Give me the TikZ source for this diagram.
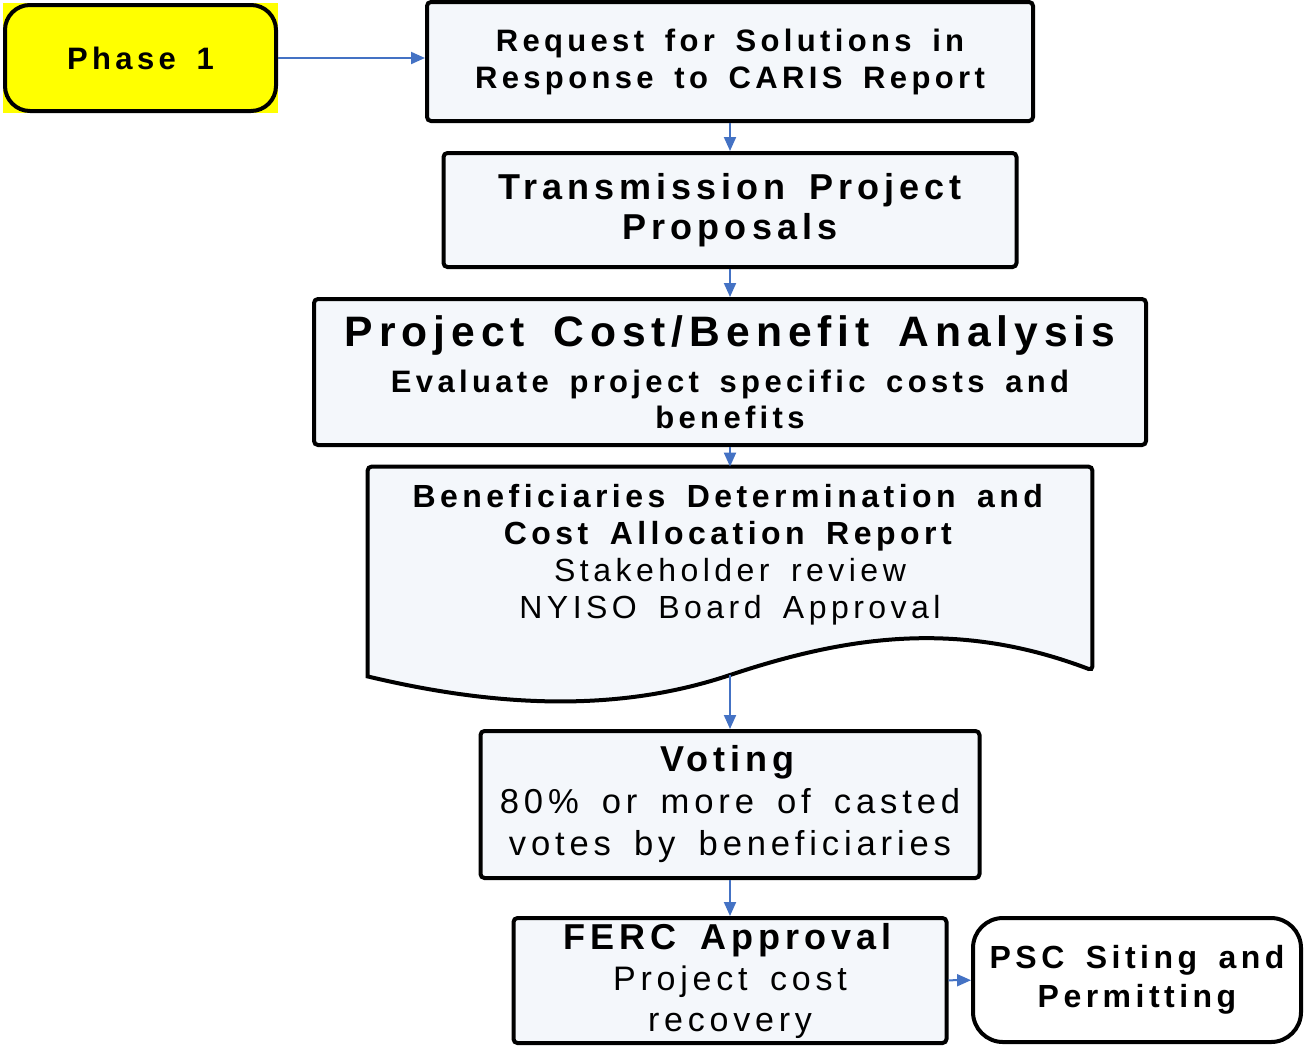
\documentclass[tikz,border=0pt]{standalone}
\usepackage{fontspec}
\setmainfont{Liberation Sans}
\newfontfamily\spaced[LetterSpace=14,WordSpace=1.6]{Liberation Sans}
\usetikzlibrary{positioning, arrows.meta, calc}
\definecolor{boxfill}{HTML}{F4F7FB}
\definecolor{flowblue}{HTML}{4472C4}
\definecolor{phaseyellow}{HTML}{FFFF00}
\pgfdeclarelayer{bg}
\pgfsetlayers{bg,main}

\begin{document}
\begin{tikzpicture}[x=0.5pt, y=-0.5pt,
    box/.style={draw, line width=2pt, fill=boxfill, rounded corners=2pt, align=center, inner sep=0pt},
    docbox/.style={align=center, inner sep=0pt},
    flow/.style={-{Triangle[length=7pt,width=6pt]}, draw=flowblue, line width=1pt}]
  \useasboundingbox (0,0) rectangle (1304,1045);
  \node[box, rounded corners=12.5pt, fill=phaseyellow, minimum width=135.5pt, minimum height=53pt,
        font={\spaced\bfseries\fontsize{15.5pt}{18pt}\selectfont}] (phase) at (140.5,58) {Phase 1};
  \node[box, minimum width=303pt, minimum height=59.5pt,
        font={\spaced\bfseries\fontsize{15.5pt}{18.5pt}\selectfont}] (req) at (730,61.5)
        {Request for Solutions in\\Response to CARIS Report};
  \node[box, minimum width=286.5pt, minimum height=57pt,
        font={\spaced\bfseries\fontsize{18pt}{20pt}\selectfont}] (prop) at (730,210)
        {Transmission Project\\Proposals};
  \node[box, minimum width=416pt, minimum height=73pt,
        font={\spaced\bfseries\fontsize{15.5pt}{18pt}\selectfont}] (cba) at (730,372)
        {{\fontsize{21.3pt}{26pt}\selectfont Project Cost/Benefit Analysis}\\[5pt]
         Evaluate project specific costs and\\benefits};
  \node[docbox, minimum width=362pt, minimum height=87.5pt,
        font={\spaced\fontsize{16pt}{18.5pt}\selectfont}] (ben) at (730,554.5)
        {\textbf{Beneficiaries Determination and}\\\textbf{Cost Allocation Report}\\
         Stakeholder review\\NYISO Board Approval};
  \node[box, minimum width=249.5pt, minimum height=73.5pt,
        font={\spaced\fontsize{17.3pt}{21pt}\selectfont}] (vote) at (730,804.5)
        {\textbf{\fontsize{18pt}{21pt}\selectfont Voting}\\80\% or more of casted\\votes by beneficiaries};
  \node[box, minimum width=216.5pt, minimum height=62.5pt,
        font={\spaced\fontsize{17pt}{20.5pt}\selectfont}] (ferc) at (730,980.5)
        {\textbf{\fontsize{18pt}{20.5pt}\selectfont FERC Approval}\\Project cost\\recovery};
  \node[box, rounded corners=15pt, fill=white, minimum width=164pt, minimum height=62pt,
        font={\spaced\bfseries\fontsize{16pt}{19.5pt}\selectfont}] (psc) at (1137,980)
        {PSC Siting and\\Permitting};
  \coordinate (benlow) at (730,675);
  \begin{pgfonlayer}{bg}
    \fill[phaseyellow] (3,3) rectangle (phase.east |- 0,113);
    \draw[line width=2pt, fill=boxfill, rounded corners=2pt]
      ($(ben.south west)+(0,34)$) -- (ben.north west) -- (ben.north east) -- ($(ben.south east)+(0,28)$)
      [sharp corners] .. controls (960,620) and (850,635) .. (benlow)
      .. controls (620,712) and (500,708) .. cycle;
  \end{pgfonlayer}
  \draw[flow] (phase.east) -- (phase.east -| req.west);
  \draw[flow] (req) -- (prop);
  \draw[flow] (prop) -- (cba);
  \draw[flow] (cba) -- (ben);
  \draw[flow] (benlow) -- (vote);
  \draw[flow] (vote) -- (ferc);
  \draw[flow] (ferc) -- (psc);
\end{tikzpicture}
\end{document}
